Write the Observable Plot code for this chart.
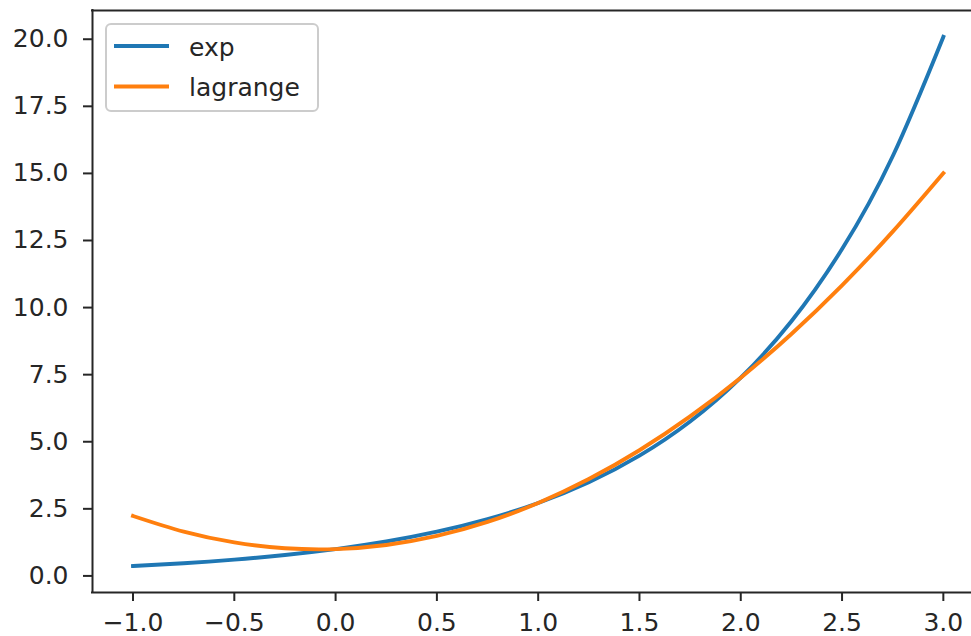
<!DOCTYPE html>
<html>
<head>
<meta charset="utf-8">
<script src="https://cdn.jsdelivr.net/npm/d3@7"></script>
<script src="https://cdn.jsdelivr.net/npm/@observablehq/plot@0.6"></script>
<style>
  html, body { margin: 0; padding: 0; background: #fff; }
  svg { display: block; }
</style>
</head>
<body>
<div id="chart"></div>
<script>
// x positions
const xValues = [-1, -0.75, -0.5, -0.25, 0, 0.25, 0.5, 0.75, 1, 1.25, 1.5, 1.75, 2, 2.25, 2.5, 2.75, 3];
// series "exp"
const expValues = [0.368, 0.472, 0.607, 0.779, 1.0, 1.284, 1.649, 2.117, 2.718, 3.490, 4.482, 5.755, 7.389, 9.488, 12.18, 15.64, 20.09];
// series "lagrange"
const lagrangeValues = [2.234, 1.649, 1.248, 1.032, 1.0, 1.153, 1.490, 2.012, 2.718, 3.609, 4.684, 5.944, 7.389, 9.017, 10.83, 12.83, 15.01];
// series names / colors
const seriesNames = ["exp", "lagrange"];
const seriesColors = ["#1f77b4", "#ff7f0e"];
// ticks
const xTicks = [-1.0, -0.5, 0.0, 0.5, 1.0, 1.5, 2.0, 2.5, 3.0];
const yTicks = [0.0, 2.5, 5.0, 7.5, 10.0, 12.5, 15.0, 17.5, 20.0];

const xDomain = [-1.2, 3.139];
const yDomain = [-0.618, 21.071];

const expData = xValues.map((x, i) => ({x, y: expValues[i]}));
const lagData = xValues.map((x, i) => ({x, y: lagrangeValues[i]}));
const fmt = d3.format(".1f");
const textColor = "#262626";

const plot = Plot.plot({
  width: 971,
  height: 636,
  marginLeft: 92,
  marginRight: 0,
  marginTop: 10,
  marginBottom: 44,
  style: {fontFamily: "DejaVu Sans", fontSize: "25px", color: textColor, background: "#fff", overflow: "hidden"},
  x: {domain: xDomain},
  y: {domain: yDomain},
  marks: [
    Plot.axisX({ticks: xTicks, tickFormat: fmt, tickSize: 9, tickPadding: 12, strokeWidth: 2, label: null, fill: textColor}),
    Plot.axisY({ticks: yTicks, tickFormat: fmt, tickSize: 9, tickPadding: 15, strokeWidth: 2, label: null, fill: textColor}),
    Plot.ruleX([xDomain[0]], {stroke: textColor, strokeWidth: 2, strokeLinecap: "square"}),
    Plot.ruleY([yDomain[0], yDomain[1]], {stroke: textColor, strokeWidth: 2, strokeLinecap: "square"}),
    Plot.line(expData, {x: "x", y: "y", stroke: seriesColors[0], strokeWidth: 3.9, curve: "natural", strokeLinecap: "square"}),
    Plot.line(lagData, {x: "x", y: "y", stroke: seriesColors[1], strokeWidth: 3.9, curve: "natural", strokeLinecap: "square"})
  ]
});

// legend (upper left, matplotlib style)
const svg = d3.select(plot);
const lg = svg.append("g")
  .attr("font-family", "DejaVu Sans")
  .attr("font-size", 25)
  .attr("text-anchor", "start");
lg.append("rect")
  .attr("x", 106).attr("y", 24).attr("width", 212).attr("height", 87)
  .attr("rx", 5).attr("ry", 5)
  .attr("fill", "#fff").attr("fill-opacity", 0.8)
  .attr("stroke", "#cccccc").attr("stroke-width", 2);
const rows = [46, 86.5];
seriesNames.forEach((name, i) => {
  lg.append("line")
    .attr("x1", 114).attr("x2", 169).attr("y1", rows[i]).attr("y2", rows[i])
    .attr("stroke", seriesColors[i]).attr("stroke-width", 3.9);
  lg.append("text")
    .attr("x", 189).attr("y", rows[i] + 9.5)
    .attr("text-anchor", "start")
    .attr("fill", textColor)
    .text(name);
});

document.getElementById("chart").appendChild(plot);
</script>
</body>
</html>
